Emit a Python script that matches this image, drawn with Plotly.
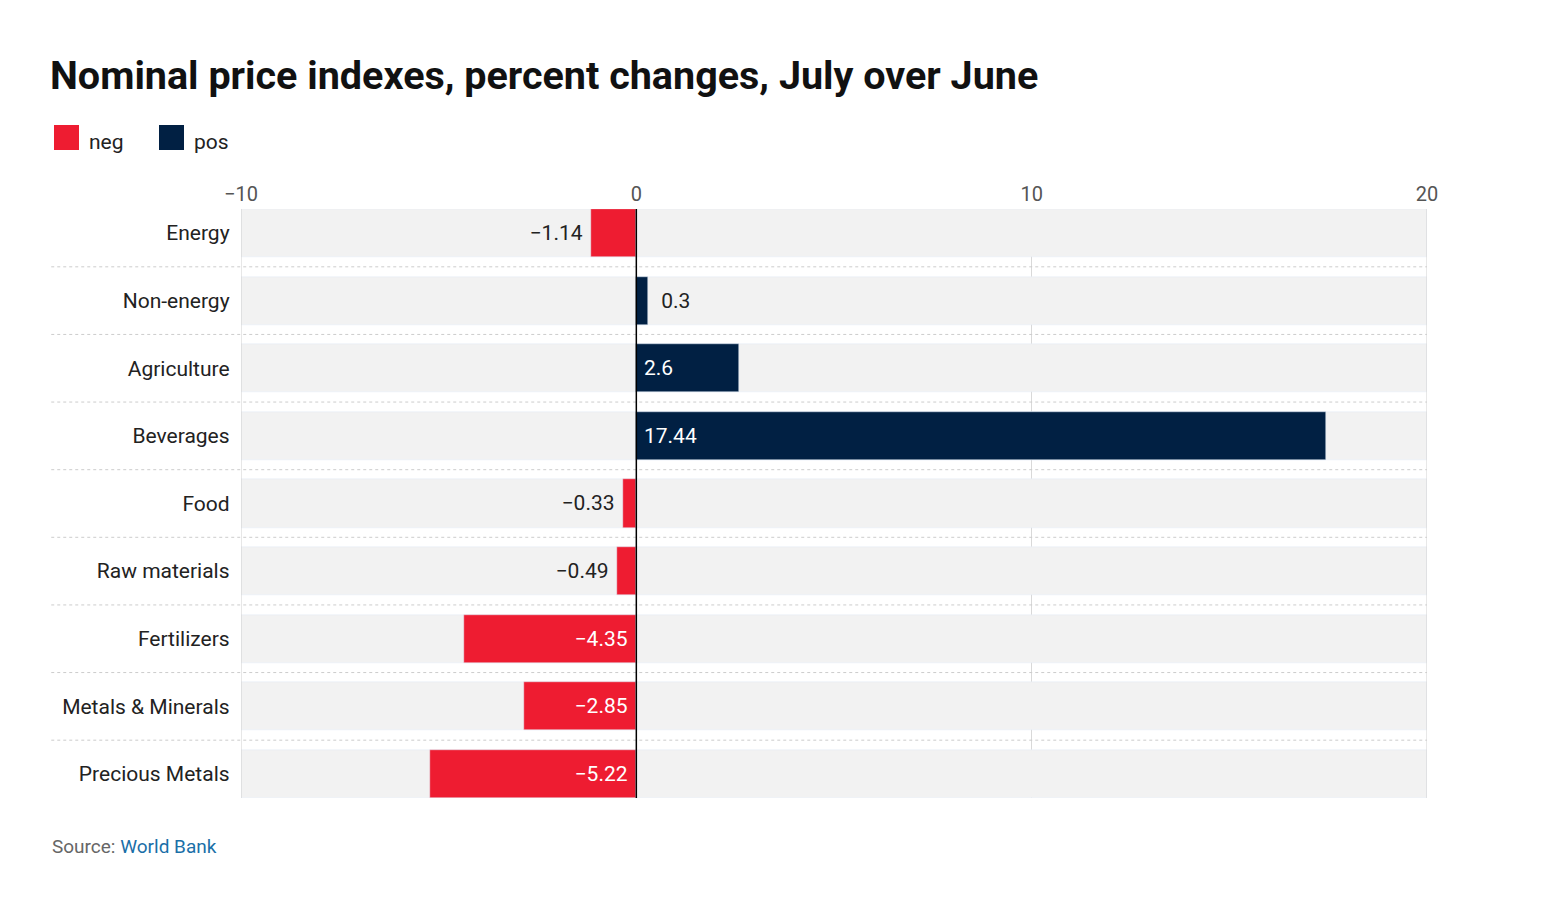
import plotly.graph_objects as go

categories = ["Energy", "Non-energy", "Agriculture", "Beverages", "Food",
              "Raw materials", "Fertilizers", "Metals & Minerals", "Precious Metals"]
values = [-1.14, 0.3, 2.6, 17.44, -0.33, -0.49, -4.35, -2.85, -5.22]

RED = "#ee1c31"
NAVY = "#012043"
NB = "\u00a0"

neg_cat = [c for c, v in zip(categories, values) if v < 0]
neg_val = [v for v in values if v < 0]
pos_cat = [c for c, v in zip(categories, values) if v >= 0]
pos_val = [v for v in values if v >= 0]


def pos_of(v):
    return "inside" if abs(v) > 2 else "outside"


def txt_color(v):
    return "white" if abs(v) > 2 else "#222"


def fmt(v):
    s = f"{v:g}".replace("-", "\u2212")
    inside = abs(v) > 2
    if v < 0:
        return s + NB
    return NB * (1 if inside else 2) + s


fig = go.Figure()
# grey background band per row
fig.add_trace(go.Bar(
    y=categories, x=[30] * len(categories), base=-10, orientation="h",
    marker=dict(color="#f2f2f2"), width=0.71, showlegend=False, hoverinfo="skip"
))
for cats, vals, col in [(neg_cat, neg_val, RED), (pos_cat, pos_val, NAVY)]:
    fig.add_trace(go.Bar(
        y=cats, x=vals, orientation="h", marker=dict(color=col),
        width=0.71, text=[fmt(v) for v in vals], showlegend=False,
        textposition=[pos_of(v) for v in vals], insidetextanchor="start",
        textfont=dict(size=21, color=[txt_color(v) for v in vals]),
        cliponaxis=False
    ))

shapes = []
for i in range(len(categories) - 1):
    shapes.append(dict(type="line", xref="paper", yref="y", x0=-0.16, x1=1,
                       y0=i + 0.5, y1=i + 0.5, line=dict(color="#cccccc", width=1, dash="dot")))
for xv in [-10, 20]:
    shapes.append(dict(type="line", xref="x", yref="paper", x0=xv, x1=xv, y0=0, y1=1,
                       line=dict(color="#d0d0d0", width=1)))
shapes.append(dict(type="line", xref="x", yref="paper", x0=0, x1=0, y0=0, y1=1,
                   line=dict(color="black", width=1.5)))

# legend swatches (pixel positions converted to paper coords)
L, T, W, H = 233, 201, 1186, 589


def px(x):
    return (x - L) / W


def py(y):
    return 1 - (y - T) / H


annotations = []
for x0, lab, col in [(46, "neg", RED), (151, "pos", NAVY)]:
    shapes.append(dict(type="rect", xref="paper", yref="paper", x0=px(x0), x1=px(x0 + 25),
                       y0=py(142), y1=py(117), fillcolor=col, line=dict(width=0)))
    annotations.append(dict(text=lab, xref="paper", yref="paper", x=px(x0 + 33), y=py(134),
                            xanchor="left", yanchor="middle", showarrow=False,
                            font=dict(size=21, color="#222")))
annotations.append(dict(text="Source: <span style='color:#1a6fa8'>World Bank</span>",
                        xref="paper", yref="paper", x=px(42), y=py(838),
                        xanchor="left", yanchor="middle", showarrow=False,
                        font=dict(size=19, color="#666")))

fig.update_layout(
    width=1548, height=916, plot_bgcolor="white", paper_bgcolor="white",
    font=dict(family="Roboto", size=21, color="#222"),
    barmode="overlay", bargap=0,
    margin=dict(l=L, r=1548 - L - W, t=T, b=916 - T - H),
    title=dict(text="<b>Nominal price indexes, percent changes, July over June</b>",
               x=42 / 1548, xanchor="left", y=1 - 67 / 916, yanchor="middle",
               font=dict(size=39.5, color="#111")),
    xaxis=dict(range=[-10, 20], side="top", tickvals=[-10, 0, 10, 20],
               ticktext=["\u221210", "0", "10", "20"], showgrid=True,
               gridcolor="#d9d9d9", zeroline=False, tickfont=dict(size=20, color="#555"),
               ticks="", ticklabelstandoff=3),
    yaxis=dict(autorange=False, range=[8.355, -0.355], ticksuffix="  ", showgrid=False,
               tickfont=dict(size=21, color="#222")),
    shapes=shapes,
    annotations=annotations,
)

fig.write_html("out.html")
